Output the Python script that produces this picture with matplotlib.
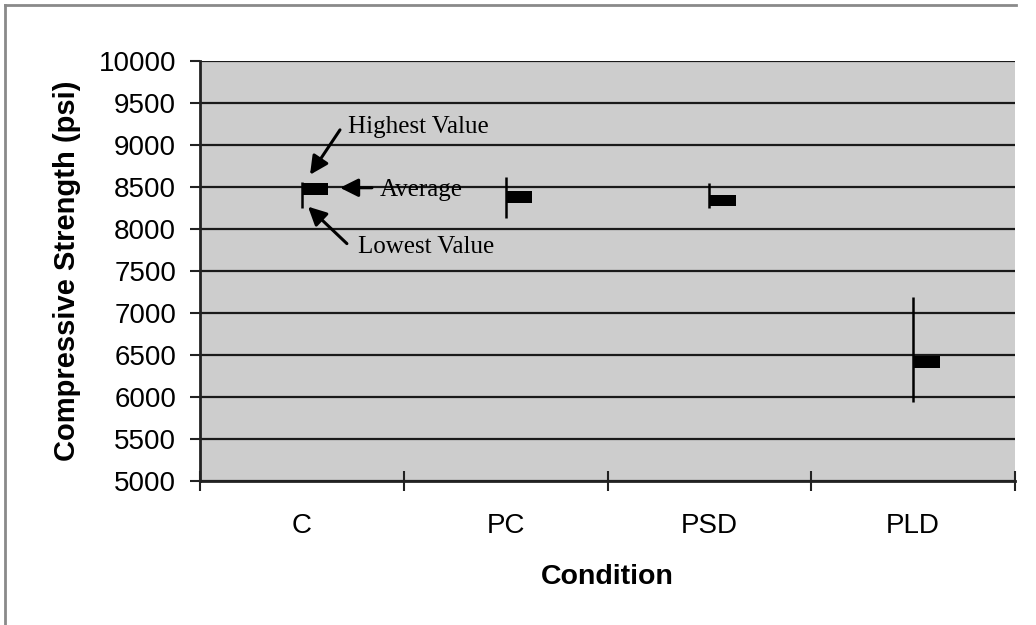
import matplotlib
matplotlib.use("Agg")
import matplotlib.pyplot as plt
from matplotlib.lines import Line2D
import numpy as np

categories = ["C", "PC", "PSD", "PLD"]
high_values = [8560, 8620, 8550, 7190]
low_values = [8250, 8135, 8255, 5940]
avg_values = [8480, 8380, 8340, 6420]
y_ticks = [5000, 5500, 6000, 6500, 7000, 7500, 8000, 8500, 9000, 9500, 10000]

W, H = 1036, 625
fig = plt.figure(figsize=(W / 100, H / 100), dpi=100)
fig.patch.set_facecolor("white")

ax = fig.add_axes([200 / W, 1 - 481 / H, 815 / W, 420 / H])
ax.set_facecolor("#cdcdcd")

x = np.arange(len(categories))
ax.set_xlim(-0.5, len(categories) - 0.5)
ax.set_ylim(5000, 10000)

# gridlines
for yv in y_ticks:
    ax.axhline(yv, color="#1a1a1a", lw=1.6, zorder=1)

# high-low lines
ax.vlines(x, low_values, high_values, color="black", lw=1.8, zorder=3)
# average markers (thick bars to the right of the line)
bar_w = 0.13
bar_h = 140
ax.bar(x, [bar_h] * len(x), width=bar_w, bottom=np.array(avg_values) - bar_h / 2,
       align="edge", color="black", zorder=4)

# axes styling
for s in ["top", "right"]:
    ax.spines[s].set_visible(False)
for s in ["left", "bottom"]:
    ax.spines[s].set_color("#222222")
    ax.spines[s].set_linewidth(2)

ax.set_yticks(y_ticks)
ax.set_yticklabels([str(v) for v in y_ticks], fontsize=20, family="Liberation Sans")
ax.tick_params(axis="y", direction="out", length=7.2, width=1.5, pad=10, color="#222222")

ax.set_xticks(x)
ax.set_xticklabels(categories, fontsize=20, family="Liberation Sans")
ax.tick_params(axis="x", which="major", length=0, pad=23)
ax.set_xticks(np.arange(-0.5, len(categories), 1.0), minor=True)
ax.tick_params(axis="x", which="minor", direction="inout", length=14.4, width=1.5, color="#222222")

ax.set_xlabel("Condition", fontsize=20.5, fontweight="bold", family="Liberation Sans", labelpad=18)
ax.set_ylabel("Compressive Strength (psi)", fontsize=21, fontweight="bold", family="Liberation Sans", labelpad=13)

# annotations
arrow = dict(arrowstyle="-|>,head_length=1.1,head_width=0.55", color="black", lw=2.2,
             shrinkA=0, shrinkB=0)
tfont = dict(fontsize=18, family="Liberation Serif", va="center", ha="left")
ax.text(0.226, 9216, "Highest Value", **tfont, zorder=6)
ax.annotate("", xy=(0.04, 8646), xytext=(0.187, 9180), arrowprops=arrow, zorder=6)
ax.text(0.383, 8467, "Average", **tfont, zorder=6)
ax.annotate("", xy=(0.187, 8491), xytext=(0.344, 8491), arrowprops=arrow, zorder=6)
ax.text(0.275, 7790, "Lowest Value", **tfont, zorder=6)
ax.annotate("", xy=(0.03, 8266), xytext=(0.221, 7826), arrowprops=arrow, zorder=6)

# figure frame
fig.add_artist(Line2D([5 / W, 1016 / W], [1 - 5 / H, 1 - 5 / H], color="#8a8a8a", lw=2,
                      transform=fig.transFigure))
fig.add_artist(Line2D([5 / W, 5 / W], [1 - 5 / H, 0], color="#8a8a8a", lw=2,
                      transform=fig.transFigure))

fig.savefig("out.png", dpi=100)
